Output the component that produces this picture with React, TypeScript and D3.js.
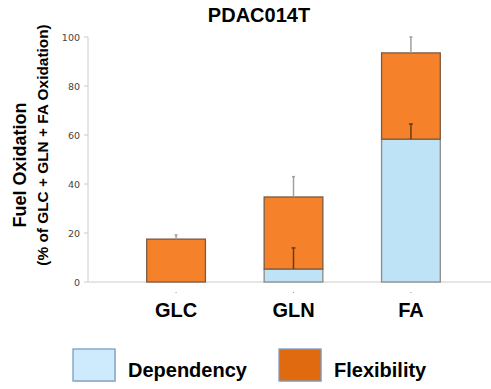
import React from 'react'
import * as d3 from 'd3'

// fuel oxidation, % of total
const categories = ['GLC', 'GLN', 'FA']
const dependency = [0, 5.3, 58.3]
const flexibility = [17.5, 29.4, 35.2]
const dependencyErr = [0, 8.6, 6.2]
const totalErr = [1.7, 8.3, 6.5]
const yTicks = [0, 20, 40, 60, 80, 100]
const legendLabels = ['Dependency', 'Flexibility']

const W = 491
const H = 389

function App() {
  const x = d3
    .scaleBand<string>()
    .domain(categories)
    .range([88, 499])
    .paddingInner(0.5)
    .paddingOuter(0.5)
  const y = d3.scaleLinear().domain([0, 100]).range([282, 37])
  const bw = x.bandwidth()

  return (
    <svg
      width={W}
      height={H}
      style={{position: 'absolute', left: 0, top: 0, background: '#fff'}}
      fontFamily="'Liberation Sans', Arial, sans-serif">
      <text x={259} y={22} textAnchor="middle" fontSize={20} fontWeight="bold">
        PDAC014T
      </text>

      {/* y label */}
      <text
        transform="translate(26,165) rotate(-90)"
        textAnchor="middle"
        fontSize={18}
        fontWeight="bold">
        Fuel Oxidation
      </text>
      <text
        transform="translate(48,145) rotate(-90)"
        textAnchor="middle"
        fontSize={15.4}
        fontWeight="bold">
        (% of GLC + GLN + FA Oxidation)
      </text>

      {/* axes */}
      <line x1={88} x2={88} y1={y(100)} y2={y(0)} stroke="#ccc" />
      <line x1={88} x2={W} y1={y(0)} y2={y(0)} stroke="#ccc" />
      {yTicks.map((t) => (
        <g key={t}>
          <line x1={84} x2={88} y1={y(t)} y2={y(t)} stroke="#ccc" />
          <text
            x={80}
            y={y(t) + 3.5}
            textAnchor="end"
            fontSize={9.5}
            fill="#444"
            fontFamily="'DejaVu Sans', sans-serif">
            {t}
          </text>
        </g>
      ))}

      {/* bars */}
      {categories.map((c, i) => {
        const x0 = x(c) as number
        const cx = x0 + bw / 2
        const top = dependency[i] + flexibility[i]
        return (
          <g key={c}>
            {dependency[i] > 0 && (
              <rect
                x={x0}
                y={y(dependency[i])}
                width={bw}
                height={y(0) - y(dependency[i])}
                fill="#bee3f7"
                stroke="#8a8a8a"
                strokeWidth={1.3}
              />
            )}
            <rect
              x={x0}
              y={y(top)}
              width={bw}
              height={y(dependency[i]) - y(top)}
              fill="#f5822a"
              stroke="#7a5a40"
              strokeWidth={1.3}
            />
            <line
              x1={cx}
              x2={cx}
              y1={y(top)}
              y2={y(top + totalErr[i])}
              stroke="#a0a0a0"
              strokeWidth={1.5}
            />
            <line
              x1={cx - 1.5}
              x2={cx + 1.5}
              y1={y(top + totalErr[i])}
              y2={y(top + totalErr[i])}
              stroke="#a0a0a0"
              strokeWidth={1.5}
            />
            {dependencyErr[i] > 0 && (
              <g stroke="#6b3a12" strokeWidth={1.5}>
                <line
                  x1={cx}
                  x2={cx}
                  y1={y(dependency[i])}
                  y2={y(dependency[i] + dependencyErr[i])}
                />
                <line
                  x1={cx - 2}
                  x2={cx + 2}
                  y1={y(dependency[i] + dependencyErr[i])}
                  y2={y(dependency[i] + dependencyErr[i])}
                />
              </g>
            )}
            <line x1={cx} x2={cx} y1={292} y2={293} stroke="#999" />
            <text x={cx} y={317} textAnchor="middle" fontSize={20} fontWeight="bold">
              {c}
            </text>
          </g>
        )
      })}

      {/* legend */}
      {legendLabels.map((l, i) => {
        const bx = i === 0 ? 73 : 279
        return (
          <g key={l}>
            <rect x={bx + 1} y={350} width={42} height={32} fill="#bbb" opacity={0.5} />
            <rect
              x={bx}
              y={349}
              width={42}
              height={32}
              fill={i === 0 ? '#cdebfc' : '#e06a10'}
              stroke="#7f9cc4"
              strokeWidth={1.3}
            />
            <text x={bx + 55} y={377} fontSize={20} fontWeight="bold">
              {l}
            </text>
          </g>
        )
      })}
    </svg>
  )
}

export default App
